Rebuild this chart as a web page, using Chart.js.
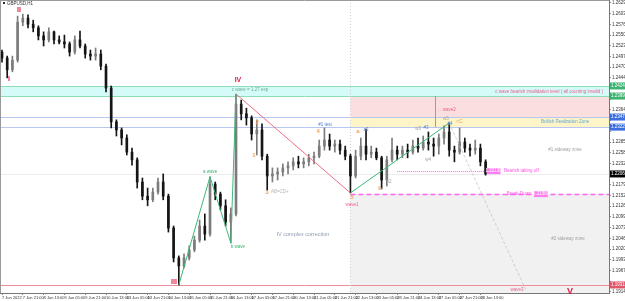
<!DOCTYPE html>
<html>
<head>
  <meta charset="utf-8">
  <title>GBPUSD,H1</title>
  <script src="https://cdn.jsdelivr.net/npm/chart.js"></script>
  <style>
    html, body { margin: 0; padding: 0; background: #fff; }
    #wrap { width: 625px; height: 301px; }
  </style>
</head>
<body>
  <div id="wrap"><canvas id="chart" width="625" height="301"></canvas></div>
  <script>
    // candles (4 x H1 blocks), x = hours since 7 Jun 05:00
    var candleHours = [0,4,8,12,16,20,24,28,32,36,40,44,48,52,56,60,64,68,72,76,
      80,84,88,92,96,100,104,108,112,116,120,124,128,132,136,140,144,148,152,156,
      160,164,168,172,176,180,184,188,192,196,200,204,208,212,216,220,224,228,232,236,
      240,244,248,252,256,260,264,268,272,276,280,284,288,292,296,300,304,308,312,316,
      320,324,328,332,336,340,344,348,352,356,360,364,368,372];
    var opens = [1.2508,1.2493,1.2464,1.2488,1.2582,1.2592,1.2577,1.2568,1.2548,1.2538,
      1.2558,1.2538,1.2533,1.2528,1.2508,1.2538,1.2523,1.2503,1.2498,1.2503,
      1.2473,1.2419,1.2335,1.2315,1.2295,1.2260,1.2241,1.2186,1.2151,1.2142,
      1.2161,1.2186,1.2151,1.2072,1.1998,1.1978,1.1998,1.2018,1.2042,1.2077,
      1.2057,1.2181,1.2156,1.2127,1.2087,1.2107,1.2379,1.2355,1.2345,1.2305,
      1.2315,1.2250,1.2201,1.2206,1.2211,1.2221,1.2226,1.2236,1.2231,1.2236,
      1.2246,1.2250,1.2275,1.2290,1.2275,1.2280,1.2265,1.2250,1.2201,1.2250,
      1.2275,1.2255,1.2260,1.2246,1.2191,1.2241,1.2265,1.2255,1.2265,1.2260,
      1.2275,1.2270,1.2285,1.2280,1.2275,1.2295,1.2310,1.2265,1.2260,1.2285,
      1.2270,1.2265,1.2270,1.2236];
    var highs = [1.2513,1.2498,1.2498,1.2597,1.2602,1.2600,1.2587,1.2573,1.2558,1.2568,
      1.2560,1.2548,1.2550,1.2533,1.2548,1.2560,1.2528,1.2513,1.2518,1.2513,
      1.2478,1.2424,1.2340,1.2320,1.2303,1.2270,1.2246,1.2196,1.2171,1.2171,
      1.2196,1.2206,1.2156,1.2077,1.2003,1.2008,1.2028,1.2052,1.2092,1.2107,
      1.2199,1.2186,1.2161,1.2142,1.2122,1.2404,1.2389,1.2369,1.2350,1.2340,
      1.2330,1.2255,1.2221,1.2221,1.2231,1.2236,1.2246,1.2250,1.2246,1.2255,
      1.2260,1.2290,1.2320,1.2305,1.2290,1.2290,1.2275,1.2255,1.2265,1.2295,
      1.2317,1.2275,1.2270,1.2250,1.2250,1.2295,1.2275,1.2275,1.2280,1.2290,
      1.2295,1.2300,1.2310,1.2295,1.2305,1.2325,1.2332,1.2275,1.2320,1.2295,
      1.2280,1.2290,1.2280,1.2241];
    var lows = [1.2483,1.2444,1.2459,1.2483,1.2573,1.2568,1.2558,1.2538,1.2523,1.2533,
      1.2528,1.2528,1.2518,1.2498,1.2503,1.2518,1.2493,1.2488,1.2488,1.2464,
      1.2409,1.2320,1.2300,1.2278,1.2253,1.2228,1.2171,1.2142,1.2127,1.2137,
      1.2156,1.2142,1.2062,1.1988,1.1931,1.1973,1.1993,1.2013,1.2037,1.2042,
      1.2052,1.2142,1.2117,1.2077,1.2035,1.2102,1.2340,1.2327,1.2290,1.2253,
      1.2241,1.2166,1.2186,1.2191,1.2201,1.2206,1.2216,1.2221,1.2221,1.2226,
      1.2231,1.2246,1.2265,1.2265,1.2260,1.2255,1.2241,1.2159,1.2196,1.2241,
      1.2241,1.2246,1.2241,1.2169,1.2176,1.2236,1.2241,1.2246,1.2246,1.2255,
      1.2260,1.2265,1.2265,1.2250,1.2255,1.2280,1.2250,1.2236,1.2255,1.2260,
      1.2250,1.2255,1.2226,1.2203];
    var closes = [1.2493,1.2464,1.2488,1.2582,1.2592,1.2577,1.2568,1.2548,1.2538,1.2558,
      1.2538,1.2533,1.2528,1.2508,1.2538,1.2523,1.2503,1.2498,1.2503,1.2473,
      1.2419,1.2335,1.2315,1.2295,1.2260,1.2241,1.2186,1.2151,1.2142,1.2161,
      1.2186,1.2151,1.2072,1.1998,1.1978,1.1998,1.2018,1.2042,1.2077,1.2057,
      1.2181,1.2156,1.2127,1.2087,1.2107,1.2379,1.2355,1.2345,1.2305,1.2315,
      1.2250,1.2201,1.2206,1.2211,1.2221,1.2226,1.2236,1.2231,1.2236,1.2246,
      1.2250,1.2275,1.2290,1.2275,1.2280,1.2265,1.2250,1.2201,1.2250,1.2275,
      1.2255,1.2260,1.2246,1.2191,1.2241,1.2265,1.2255,1.2265,1.2260,1.2275,
      1.2270,1.2285,1.2280,1.2275,1.2295,1.2310,1.2265,1.2260,1.2285,1.2270,
      1.2265,1.2270,1.2236,1.2206];

    // time axis labels
    var labelHours = [0,16,32,48,64,80,96,112,128,144,160,176,192,208,224,240,256,272,288,304,320,336,352,368];
    var timeLabels = ["7 Jun 2022","7 Jun 21:00","8 Jun 13:00","9 Jun 05:00","9 Jun 21:00","10 Jun 13:00",
      "13 Jun 05:00","13 Jun 21:00","14 Jun 13:00","15 Jun 05:00","15 Jun 21:00","16 Jun 13:00",
      "17 Jun 05:00","17 Jun 21:00","20 Jun 13:00","21 Jun 05:00","21 Jun 21:00","22 Jun 13:00",
      "23 Jun 05:00","23 Jun 21:00","24 Jun 13:00","27 Jun 05:00","27 Jun 21:00","28 Jun 13:00"];
    // price axis labels
    var priceTicks = [1.26295,1.26030,1.25765,1.25500,1.25235,1.24970,1.24705,1.24440,1.24175,1.23910,
      1.23645,1.23380,1.23115,1.22850,1.22585,1.22320,1.22055,1.21790,1.21525,1.21260,
      1.20995,1.20730,1.20465,1.20200,1.19935,1.19670,1.19405,1.19140];

    // wave count lines
    var waveUpHours = [136, 160, 176, 180];
    var waveUpPrices = [1.1931, 1.2199, 1.2035, 1.2404];
    var waveDownHours = [180, 268];
    var waveDownPrices = [1.2404, 1.2159];
    var waveCHours = [268, 344];
    var waveCPrices = [1.2159, 1.2332];
    var projHours = [344, 403];
    var projPrices = [1.2332, 1.1918];

    // levels
    var cZoneTop = 1.2424, cZoneBottom = 1.2399;
    var realizTop = 1.2347, realizBottom = 1.2322;
    var entryLevel = 1.2213, breakLevel = 1.2156;
    var lowIII = 1.1931, lastPrice = 1.2206;
    var zoneStartHour = 268, wave2Hour = 333;
    var entryFrom = 304, entryTo = 373;

    var FONT = '"Liberation Sans", Arial, sans-serif';
    var PINK = '#e9608c', ORANGE = '#efa35c', GREEN = '#3cb371', BLUE = '#4b7fd6', GREY = '#a0a0a0';

    // text notes: [text, hour, price, colour, size, align, bold]
    var notes = [
      ['I', 5.4, 1.2441, '#e2173f', 7, 'center', true],
      ['II', 13.1, 1.2612, '#e2173f', 7, 'center', true],
      ['III', 132.3, 1.1938, '#e2173f', 7, 'center', true],
      ['IV', 181.5, 1.2439, '#e2173f', 7, 'center', true],
      ['V', 436.9, 1.1916, '#e2173f', 9, 'center', true],
      ['c wave = 1.27 exp', 190.8, 1.2414, '#6cae90', 4.5, 'center', false],
      ['c wave bearish invalidation level ( all counting invalid )', 462.3, 1.2409, PINK, 4.5, 'right', false],
      ['Bullish Realization Zone', 433.1, 1.2335, '#6aa6cf', 4.5, 'center', false],
      ['#1 sideway zone', 433.1, 1.2265, GREY, 4.5, 'center', false],
      ['#2 sideway zone', 435.4, 1.2045, GREY, 4.5, 'center', false],
      ['IV complex correction', 231.5, 1.2057, '#8f9db3', 5.5, 'center', false],
      ['a wave', 160, 1.2211, GREEN, 4.5, 'center', false],
      ['b wave', 181.5, 1.2025, GREEN, 4.5, 'center', false],
      ['5', 269.2, 1.2147, ORANGE, 6, 'center', true],
      ['wave1', 269.2, 1.2129, PINK, 4.5, 'center', false],
      ['1', 193.8, 1.2253, ORANGE, 6, 'center', true],
      ['2', 196.2, 1.2335, ORANGE, 6, 'center', true],
      ['3', 203.8, 1.2161, ORANGE, 6, 'center', true],
      ['AB=CD+', 206.9, 1.2161, '#b5b5b5', 4.5, 'left', false],
      ['4', 243.1, 1.2312, ORANGE, 6, 'center', true],
      ['#1 test', 248.5, 1.2327, BLUE, 4.5, 'center', false],
      ['a', 273.8, 1.2312, ORANGE, 6, 'center', true],
      ['a2', 280, 1.2315, BLUE, 4.5, 'center', false],
      ['b', 290.8, 1.2171, ORANGE, 6, 'center', true],
      ['b2', 297.7, 1.2186, GREY, 4.5, 'center', false],
      ['w3', 320, 1.2317, GREY, 4.5, 'center', false],
      ['#3', 326.2, 1.2320, BLUE, 4.5, 'center', false],
      ['w4', 327.7, 1.2241, GREY, 4.5, 'center', false],
      ['w5', 341.5, 1.2342, GREY, 4.5, 'center', false],
      ['#4', 344.6, 1.2330, BLUE, 4.5, 'center', false],
      ['<C', 349.2, 1.2335, ORANGE, 5, 'left', false],
      ['\u2194 wave2', 334.6, 1.2364, PINK, 4.5, 'left', false],
      ['wave3', 396.2, 1.1919, PINK, 4.5, 'center', false],
      ['Bearish taking off', 386.2, 1.2213, '#ff55e6', 4.5, 'left', false],
      ['Break-Down', 397.7, 1.2156, '#ff55e6', 4.5, 'center', false]
    ];
    // small price tags on the chart: [hour, price]
    var tags = [[378.1, entryLevel], [414.6, breakLevel]];
    // coloured price boxes on the axis
    var axisMarks = [[cZoneTop, '#3cb371'], [cZoneBottom, '#3cb371'], [realizTop, '#3d6fe0'],
      [realizBottom, '#3d6fe0'], [lastPrice, '#000000'], [lowIII, '#e0576c']];

    function candleColor(i) { return closes[i] >= opens[i] ? '#7c7c7c' : '#151515'; }

    var wickData = candleHours.map(function(h, i) { return { x: h, y: [lows[i], highs[i]] }; });
    var bodyData = candleHours.map(function(h, i) { return { x: h, y: [opens[i], closes[i]] }; });
    function pts(xs, ys) { return xs.map(function(x, i) { return { x: x, y: ys[i] }; }); }

    var overlay = {
      id: 'overlay',
      beforeDatasetsDraw: function(chart) {
        var ctx = chart.ctx, a = chart.chartArea, xs = chart.scales.x, ys = chart.scales.y;
        var X = function(v) { return xs.getPixelForValue(v); };
        var Y = function(v) { return ys.getPixelForValue(v); };
        var zx = X(zoneStartHour);
        ctx.save();
        ctx.beginPath();
        ctx.rect(a.left, a.top, a.right - a.left, a.bottom - a.top);
        ctx.clip();
        function band(x1, x2, p1, p2, col) {
          ctx.fillStyle = col;
          ctx.fillRect(x1, Y(p1), x2 - x1, Y(p2) - Y(p1));
        }
        function hline(p, x1, x2, col, w, dash) {
          var y = Math.round(Y(p)) + 0.5;
          ctx.strokeStyle = col; ctx.lineWidth = w; ctx.setLineDash(dash || []);
          ctx.beginPath(); ctx.moveTo(x1, y); ctx.lineTo(x2, y); ctx.stroke();
        }
        band(a.left, a.right, cZoneTop, cZoneBottom, '#d5fbf9');
        band(zx, a.right, cZoneBottom, realizTop, '#fbdfde');
        band(zx, a.right, realizTop, realizBottom, '#fdf5c8');
        band(zx, a.right, breakLevel, ys.min, '#f1f1f1');
        hline(cZoneTop, a.left, a.right, '#8edbb8', 1);
        hline(cZoneBottom, a.left, a.right, '#8edbb8', 1);
        hline(realizTop, a.left, a.right, '#b8c6f2', 1);
        hline(realizBottom, a.left, a.right, '#b8c6f2', 1);
        hline(lastPrice, a.left, a.right, '#ececec', 1);
        hline(lowIII, a.left, a.right, '#ee8d99', 1);
        hline(entryLevel, X(entryFrom), X(entryTo), '#ff66ee', 1, [1, 1]);
        hline(breakLevel, zx, a.right, '#ff66ee', 1.3, [5, 3]);
        // separator of the current structure
        ctx.strokeStyle = '#cfcfcf'; ctx.lineWidth = 1; ctx.setLineDash([1, 2]);
        ctx.beginPath(); ctx.moveTo(Math.round(zx) + 0.5, a.top); ctx.lineTo(Math.round(zx) + 0.5, a.bottom); ctx.stroke();
        // wave2 marker
        var wx = Math.round(X(wave2Hour)) + 0.5;
        ctx.strokeStyle = '#f06cb8'; ctx.setLineDash([]);
        ctx.beginPath(); ctx.moveTo(wx, Y(cZoneBottom)); ctx.lineTo(wx, Y(realizBottom)); ctx.stroke();
        ctx.restore();
      },
      afterDatasetsDraw: function(chart) {
        var ctx = chart.ctx, xs = chart.scales.x, ys = chart.scales.y;
        ctx.save();
        ctx.textBaseline = 'middle';
        notes.forEach(function(n) {
          ctx.font = (n[6] ? 'bold ' : '') + n[4] + 'px ' + FONT;
          ctx.fillStyle = n[3];
          ctx.textAlign = n[5];
          ctx.fillText(n[0], xs.getPixelForValue(n[1]), ys.getPixelForValue(n[2]));
        });
        ctx.font = '4.5px ' + FONT;
        ctx.textAlign = 'center';
        tags.forEach(function(t) {
          var x = xs.getPixelForValue(t[0]), y = ys.getPixelForValue(t[1]);
          ctx.fillStyle = '#ff7ff0';
          ctx.fillRect(x - 7, y - 3, 14, 6);
          ctx.fillStyle = '#ffffff';
          ctx.fillText(t[1].toFixed(5), x, y);
        });
        ctx.restore();
      },
      afterDraw: function(chart) {
        var ctx = chart.ctx, a = chart.chartArea, ys = chart.scales.y;
        ctx.save();
        ctx.strokeStyle = '#9a9a9a'; ctx.lineWidth = 1;
        ctx.beginPath(); ctx.moveTo(0, 0.5); ctx.lineTo(a.right, 0.5); ctx.moveTo(0.5, 0); ctx.lineTo(0.5, a.bottom); ctx.stroke();
        ctx.font = '4.5px ' + FONT;
        ctx.textBaseline = 'middle';
        ctx.textAlign = 'left';
        axisMarks.forEach(function(m) {
          var y = ys.getPixelForValue(m[0]);
          ctx.fillStyle = m[1];
          ctx.fillRect(a.right + 1, y - 3.5, 15, 7);
          ctx.fillStyle = '#ffffff';
          ctx.fillText(m[0].toFixed(5), a.right + 2, y);
        });
        // symbol caption
        ctx.fillStyle = '#333';
        ctx.fillRect(3, 2, 2, 2);
        ctx.font = '4.5px ' + FONT;
        ctx.fillText('GBPUSD,H1', 7, 3.5);
        ctx.restore();
      }
    };

    new Chart(document.getElementById('chart'), {
      type: 'bar',
      data: {
        datasets: [
          { type: 'line', data: pts(waveUpHours, waveUpPrices), borderColor: '#3cb878', borderWidth: 1, pointRadius: 0, order: 0 },
          { type: 'line', data: pts(waveDownHours, waveDownPrices), borderColor: '#ef6d84', borderWidth: 1, pointRadius: 0, order: 0 },
          { type: 'line', data: pts(waveCHours, waveCPrices), borderColor: '#3cb878', borderWidth: 1, pointRadius: 0, order: 0 },
          { type: 'line', data: pts(projHours, projPrices), borderColor: '#c4c4c4', borderWidth: 0.8, borderDash: [3, 2], pointRadius: 0, order: 0 },
          { data: wickData, backgroundColor: function(c) { return candleColor(c.dataIndex); }, barThickness: 1, grouped: false, order: 2 },
          { data: bodyData, backgroundColor: function(c) { return candleColor(c.dataIndex); }, barThickness: 2, minBarLength: 1, grouped: false, order: 1 }
        ]
      },
      options: {
        responsive: false,
        animation: false,
        layout: { padding: 0 },
        plugins: { legend: { display: false }, tooltip: { enabled: false } },
        scales: {
          x: {
            type: 'linear', min: -1.54, max: 466.9, offset: false,
            grid: { display: true, drawOnChartArea: false, offset: false, tickLength: 2, color: '#888' },
            border: { color: '#777' },
            afterBuildTicks: function(s) { s.ticks = labelHours.map(function(v) { return { value: v }; }); },
            afterFit: function(s) { s.height = 8; s.paddingLeft = 0; s.paddingRight = 0; },
            ticks: {
              autoSkip: false, maxRotation: 0, align: 'start', padding: 0,
              color: '#333', font: { size: 4, family: FONT },
              callback: function(v) { return timeLabels[labelHours.indexOf(v)]; }
            }
          },
          y: {
            position: 'right', min: 1.19111, max: 1.26369,
            grid: { display: true, drawOnChartArea: false, tickLength: 2, color: '#888' },
            border: { color: '#777' },
            afterBuildTicks: function(s) { s.ticks = priceTicks.map(function(v) { return { value: v }; }); },
            afterFit: function(s) { s.width = 16; s.paddingTop = 0; s.paddingBottom = 0; },
            ticks: {
              padding: 1, color: '#333', font: { size: 4.5, family: FONT },
              callback: function(v) {
                var near = axisMarks.some(function(m) { return Math.abs(m[0] - v) < 0.0016; });
                return near ? '' : v.toFixed(5);
              }
            }
          }
        }
      },
      plugins: [overlay]
    });
  </script>
</body>
</html>
